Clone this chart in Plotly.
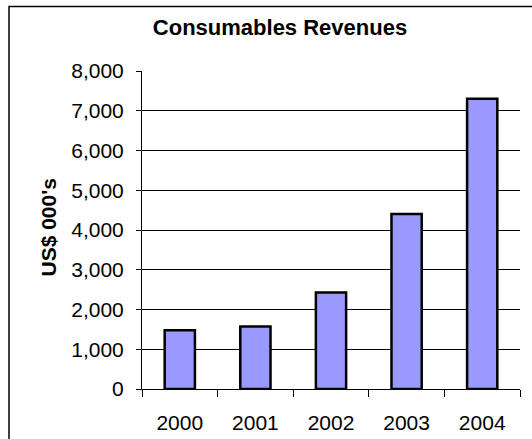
import plotly.graph_objects as go

years = ["2000", "2001", "2002", "2003", "2004"]
revenues = [1480, 1575, 2430, 4400, 7300]
y_ticks = [0, 1000, 2000, 3000, 4000, 5000, 6000, 7000, 8000]

FONT = "Liberation Sans, Arial, sans-serif"
W, H = 532, 439
ML, MR, MT, MB = 142, 12, 71, 50
PW, PH = W - ML - MR, H - MT - MB

fig = go.Figure()
fig.add_trace(go.Bar(
    x=years, y=revenues,
    marker=dict(color="#9999FF", line=dict(color="#000000", width=2.5)),
    hoverinfo="x+y",
))

fig.update_layout(
    width=W, height=H,
    margin=dict(l=ML, r=MR, t=MT, b=MB, pad=0, autoexpand=False),
    paper_bgcolor="white", plot_bgcolor="white",
    font=dict(family=FONT, color="#000", size=21),
    bargap=0.6,
    showlegend=False,
    title=dict(
        text="<b>Consumables Revenues</b>",
        font=dict(family=FONT, size=22, color="#000"),
        x=280 / W, xref="container", xanchor="center",
        y=1 - 27.5 / H, yref="container", yanchor="middle",
    ),
    xaxis=dict(
        type="category",
        automargin=False,
        showgrid=False,
        showline=True, linecolor="#000", linewidth=1,
        ticks="outside", tickson="boundaries", ticklen=7, tickcolor="#000", tickwidth=1,
        tickfont=dict(size=21),
        ticklabelstandoff=15,
    ),
    yaxis=dict(
        range=[0, 8000],
        automargin=False,
        tickvals=y_ticks, tickformat=",",
        showgrid=True, gridcolor="#000", gridwidth=1,
        showline=True, linecolor="#000", linewidth=1,
        ticks="outside", ticklen=5, tickcolor="#000", tickwidth=1,
        tickfont=dict(size=21),
        ticklabelstandoff=8,
        zeroline=False,
    ),
    annotations=[dict(
        text="<b>US$ 000's</b>", textangle=-90,
        xref="paper", yref="paper",
        x=(47.5 - ML) / PW, y=0.5 + 2 / PH,
        xanchor="center", yanchor="middle",
        showarrow=False, font=dict(family=FONT, size=21, color="#000"),
    )],
    shapes=[dict(
        type="rect", xref="paper", yref="paper",
        x0=(9 - ML) / PW, x1=(560 - ML) / PW,
        y0=(MT + PH - 460) / PH, y1=(MT + PH - 6.5) / PH,
        line=dict(color="#000", width=1.5), fillcolor="rgba(0,0,0,0)", layer="below",
    )],
)

fig.write_html("out.html")
